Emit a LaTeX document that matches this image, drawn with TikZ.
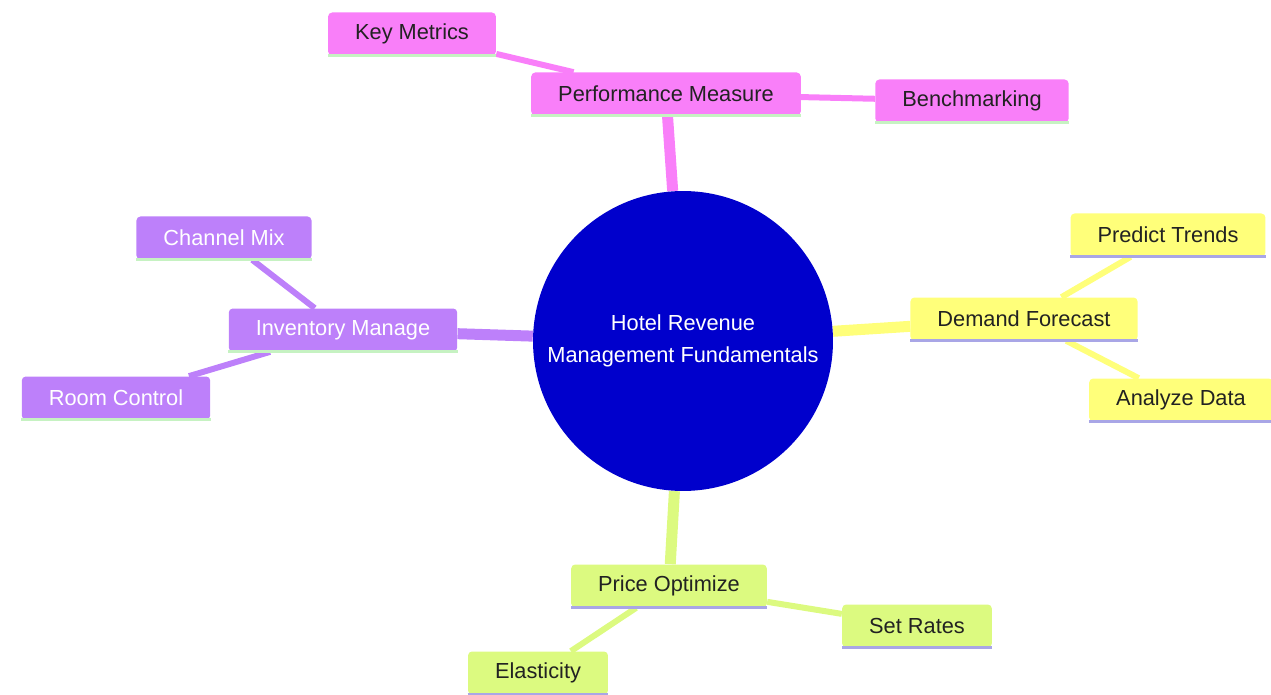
\documentclass[tikz,border=0pt]{standalone}
\usepackage{fontspec}
\setmainfont{Liberation Sans}
\usetikzlibrary{backgrounds}

\definecolor{hubblue}{HTML}{0000CC}
\definecolor{pinkbox}{HTML}{F97FF9}
\definecolor{purplebox}{HTML}{BD80FA}
\definecolor{yellowbox}{HTML}{FFFF7A}
\definecolor{greenbox}{HTML}{DCFA80}
\definecolor{mintline}{HTML}{C6F2C2}
\definecolor{lilacline}{HTML}{A9A6E6}
\definecolor{darktext}{HTML}{222222}

\tikzset{
  leaf/.style={rectangle, rounded corners=0.08cm, inner xsep=0.54cm, minimum height=0.86cm,
    text=darktext, font=\fontsize{12.4pt}{15pt}\selectfont},
  trunk/.style={line width=0.22cm},
  twig/.style={line width=0.12cm},
  stripe/.style={line width=0.06cm}
}

\begin{document}
\begin{tikzpicture}[x=0.02cm,y=-0.02cm]
\useasboundingbox (0,0) rectangle (1271,695);

\node[circle, fill=hubblue, minimum size=6cm, text=white, align=center,
  font=\fontsize{12.4pt}{18pt}\selectfont] (hotel) at (683,341) {Hotel Revenue\\Management Fundamentals};

% performance
\node[leaf, fill=pinkbox] (perf) at (666,94) {Performance Measure};
\node[leaf, fill=pinkbox] (metrics) at (412,34) {Key Metrics};
\node[leaf, fill=pinkbox] (bench) at (972,101) {Benchmarking};

% demand
\node[leaf, fill=yellowbox] (demand) at (1024,319) {Demand Forecast};
\node[leaf, fill=yellowbox] (trends) at (1168,235) {Predict Trends};
\node[leaf, fill=yellowbox] (analyze) at (1181,400) {Analyze Data};

% inventory
\node[leaf, fill=purplebox, text=white] (inventory) at (343,330) {Inventory Manage};
\node[leaf, fill=purplebox, text=white] (channel) at (224,238) {Channel Mix};
\node[leaf, fill=purplebox, text=white] (room) at (116,398) {Room Control};

% price
\node[leaf, fill=greenbox] (price) at (669,586) {Price Optimize};
\node[leaf, fill=greenbox] (rates) at (917,626) {Set Rates};
\node[leaf, fill=greenbox] (elastic) at (538,673) {Elasticity};

\begin{scope}[on background layer]
\draw[trunk, pinkbox] (hotel) -- (perf);
\draw[twig, pinkbox] (perf) -- (metrics);
\draw[twig, pinkbox] (perf) -- (bench);
\draw[trunk, yellowbox] (hotel) -- (demand);
\draw[twig, yellowbox] (demand) -- (trends);
\draw[twig, yellowbox] (demand) -- (analyze);
\draw[trunk, purplebox] (hotel) -- (inventory);
\draw[twig, purplebox] (inventory) -- (channel);
\draw[twig, purplebox] (inventory) -- (room);
\draw[trunk, greenbox] (hotel) -- (price);
\draw[twig, greenbox] (price) -- (rates);
\draw[twig, greenbox] (price) -- (elastic);
\end{scope}

\foreach \n/\c in {perf/mintline, metrics/mintline, bench/mintline,
  inventory/mintline, channel/mintline, room/mintline,
  demand/lilacline, trends/lilacline, analyze/lilacline,
  price/lilacline, rates/lilacline, elastic/lilacline}
  \draw[stripe, \c] (\n.south west) -- (\n.south east);
\end{tikzpicture}
\end{document}
